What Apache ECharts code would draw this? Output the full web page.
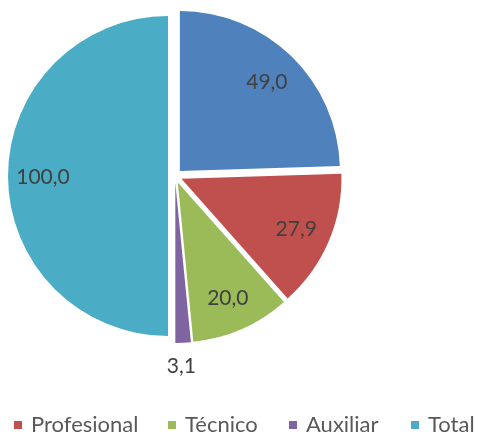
<!DOCTYPE html>
<html>
<head>
<meta charset="utf-8">
<script src="https://cdn.jsdelivr.net/npm/echarts@6/dist/echarts.min.js"></script>
<style>
    html, body { margin: 0; padding: 0; background: #fff; }
    #pie-chart { width: 478px; height: 435px; }
</style>
</head>
<body>
<div id="pie-chart"></div>
<script>
// datos del grafico
var categories = ['', 'Profesional', 'Técnico', 'Auxiliar', 'Total'];
var values = [49.0, 27.9, 20.0, 3.1, 100.0];
var legendNames = ['Profesional', 'Técnico', 'Auxiliar', 'Total'];

var colors = ['#4F81BD', '#C0504D', '#9BBB59', '#8064A2', '#4BACC6'];
var legendLefts = [9, 163, 284, 406];
var fontName = 'Lato';

function fmt(v) {
    return v.toFixed(1).replace('.', ',');
}

var pieData = categories.map(function (name, i) {
    return { name: name, value: values[i], selected: true, itemStyle: { color: colors[i] } };
});

var labelData = categories.map(function (name, i) {
    return { name: name, value: values[i], selected: true };
});

var option = {
    animation: false,
    legend: legendNames.map(function (name, i) {
        return {
            data: [name],
            left: legendLefts[i],
            top: 409,
            itemWidth: 8,
            itemHeight: 8,
            icon: 'rect',
            selectedMode: false,
            textStyle: { fontFamily: fontName, fontSize: 22, color: '#595959', padding: [0, 0, 0, 4] }
        };
    }),
    series: [
        {
            name: 'pie',
            type: 'pie',
            radius: [0, 160],
            center: [175, 176],
            startAngle: 90,
            selectedMode: 'multiple',
            selectedOffset: 7,
            label: { show: false },
            labelLine: { show: false },
            emphasis: { disabled: true },
            data: pieData
        },
        {
            name: 'labels',
            type: 'pie',
            radius: [84, 160],
            center: [175, 176],
            startAngle: 90,
            selectedMode: 'multiple',
            selectedOffset: 7,
            silent: true,
            itemStyle: { color: 'rgba(0,0,0,0)' },
            label: {
                show: true,
                position: 'inside',
                fontFamily: fontName,
                fontSize: 21,
                color: '#404040',
                formatter: function (p) { return fmt(p.value); }
            },
            labelLine: { show: false },
            labelLayout: function (params) {
                // la etiqueta del sector pequeño va fuera
                if (values[params.dataIndex] < 5) {
                    return { dx: 0, dy: 58 };
                }
                return { dy: 1 };
            },
            emphasis: { disabled: true },
            data: labelData
        }
    ]
};

var container = document.getElementById('pie-chart');
var myChart = echarts.init(container);
myChart.setOption(option);
</script>
</body>
</html>
